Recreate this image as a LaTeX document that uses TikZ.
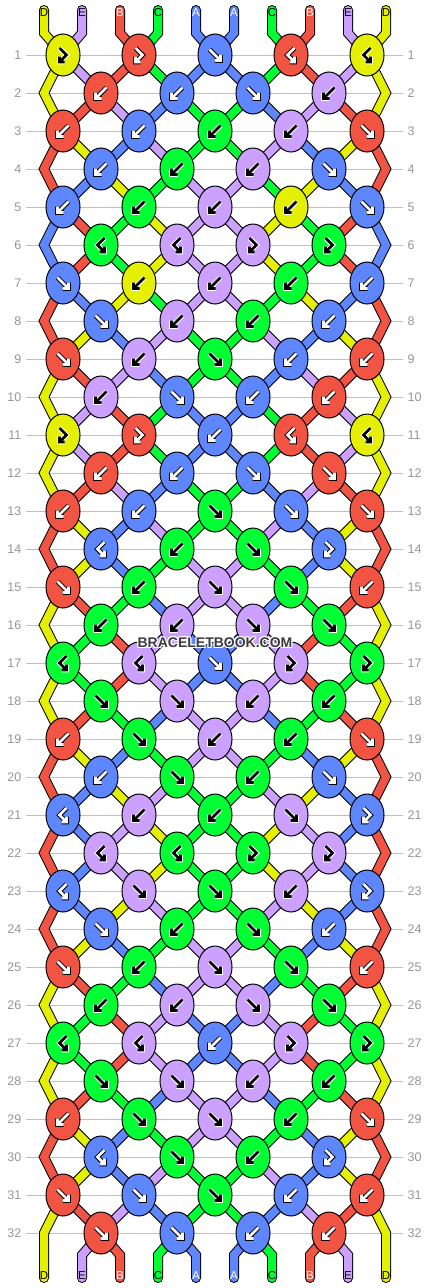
\documentclass[tikz,border=0pt]{standalone}
\usepackage{fontspec}
\setmainfont{Liberation Sans}
\usetikzlibrary{shapes.geometric}
\definecolor{cY}{RGB}{228,240,0}
\definecolor{cR}{RGB}{242,84,68}
\definecolor{cB}{RGB}{94,134,255}
\definecolor{cG}{RGB}{0,255,51}
\definecolor{cL}{RGB}{204,160,255}
\definecolor{gridgray}{RGB}{192,192,192}
\definecolor{numgray}{RGB}{150,150,150}
\definecolor{wmgray}{RGB}{60,60,60}
\def\fgY{black}\def\fgG{black}\def\fgL{black}\def\fgR{white}\def\fgB{white}
\def\bgY{white}\def\bgG{white}\def\bgL{white}\def\bgR{black}\def\bgB{black}
\def\pF{(-5.5,-5.5)--(4.8,4.8) (5.5,-0.5)--(5.5,5.5)--(-0.5,5.5)}
\def\pB{(5.5,-5.5)--(-4.8,4.8) (-5.5,-0.5)--(-5.5,5.5)--(0.5,5.5)}
\def\pFB{(-3.5,-7)--(3.5,0)--(-3,6.5) (-3.5,1.5)--(-3.5,7)--(1.5,7)}
\def\pBF{(3.5,-7)--(-3.5,0)--(3,6.5) (3.5,1.5)--(3.5,7)--(-1.5,7)}
\def\rowdata{%
1/{Y,L,R,G,B,B,G,R,L,Y}/{FB/Y,FB/R,F/B,BF/R,BF/Y},%
2/{Y,R,L,B,G,G,B,L,R,Y}/{B/R,B/B,F/B,B/L},%
3/{R,Y,B,L,G,G,L,B,Y,R}/{B/R,B/B,B/G,B/L,F/R},%
4/{R,B,Y,G,L,L,G,Y,B,R}/{B/B,B/G,B/L,F/B},%
5/{B,R,G,Y,L,L,Y,G,R,B}/{B/B,B/G,B/L,B/Y,F/B},%
6/{B,R,G,Y,L,L,Y,G,R,B}/{BF/G,BF/L,FB/L,FB/G},%
7/{R,B,Y,G,L,L,G,Y,B,R}/{F/B,B/Y,B/L,B/G,B/B},%
8/{R,Y,B,L,G,G,L,B,Y,R}/{F/B,B/L,B/G,B/B},%
9/{Y,R,L,B,G,G,B,L,R,Y}/{F/R,B/L,F/G,B/B,B/R},%
10/{Y,L,R,G,B,B,G,R,L,Y}/{B/L,F/B,B/B,B/R},%
11/{Y,L,R,G,B,B,G,R,L,Y}/{FB/Y,FB/R,B/B,BF/R,BF/Y},%
12/{Y,R,L,B,G,G,B,L,R,Y}/{B/R,B/B,F/B,F/R},%
13/{R,Y,B,L,G,G,L,B,Y,R}/{B/R,B/B,F/G,F/B,F/R},%
14/{R,Y,B,G,L,L,G,B,Y,R}/{BF/B,B/G,F/G,FB/B},%
15/{Y,R,G,B,L,L,B,G,R,Y}/{F/R,B/G,F/L,F/G,B/R},%
16/{Y,G,R,L,B,B,L,R,G,Y}/{B/G,B/L,F/L,F/G},%
17/{Y,G,R,L,B,B,L,R,G,Y}/{BF/G,BF/L,F/B,FB/L,FB/G},%
18/{Y,R,G,B,L,L,B,G,R,Y}/{F/G,F/L,B/L,B/G},%
19/{R,Y,B,G,L,L,G,B,Y,R}/{B/R,F/G,B/L,B/G,F/R},%
20/{R,B,Y,L,G,G,L,Y,B,R}/{B/B,F/G,B/G,F/B},%
21/{R,B,L,Y,G,G,Y,L,B,R}/{BF/B,B/L,B/G,F/L,FB/B},%
22/{R,B,L,Y,G,G,Y,L,B,R}/{BF/L,BF/G,FB/G,FB/L},%
23/{R,B,Y,L,G,G,L,Y,B,R}/{BF/B,F/L,F/G,B/L,FB/B},%
24/{R,Y,B,G,L,L,G,B,Y,R}/{F/B,B/G,F/G,B/B},%
25/{Y,R,G,B,L,L,B,G,R,Y}/{F/R,B/G,F/L,F/G,B/R},%
26/{Y,G,R,L,B,B,L,R,G,Y}/{B/G,B/L,F/L,F/G},%
27/{Y,G,R,L,B,B,L,R,G,Y}/{BF/G,BF/L,B/B,FB/L,FB/G},%
28/{Y,R,G,B,L,L,B,G,R,Y}/{F/G,F/L,B/L,B/G},%
29/{R,Y,B,G,L,L,G,B,Y,R}/{B/R,F/G,F/L,B/G,F/R},%
30/{R,Y,B,L,G,G,L,B,Y,R}/{BF/B,F/G,B/G,FB/B},%
31/{Y,R,L,B,G,G,B,L,R,Y}/{F/R,F/B,F/G,B/B,B/R},%
32/{Y,L,R,G,B,B,G,R,L,Y}/{F/R,F/B,B/B,B/R}}
\begin{document}
\begin{tikzpicture}[x=1pt,y=-1pt,
  str/.style={draw=black,line width=1pt,double=#1,double distance=8pt,line join=miter},
  knot/.style={ellipse,draw=black,line width=1pt,minimum width=34pt,minimum height=42pt,inner sep=0pt},
  num/.style={text=numgray,font=\fontsize{12.5}{12.5}\selectfont,inner sep=0pt},
  lab/.style={font=\fontsize{11.5}{11.5}\selectfont,inner sep=0pt},
  wm/.style={font=\bfseries\fontsize{14}{14}\selectfont,inner sep=0pt}]
\useasboundingbox[fill=white] (0,0) rectangle (430,1288);
% grid lines and row numbers
\foreach \r in {1,...,32}{
  \pgfmathsetmacro\y{55+38*(\r-1)}
  \draw[gridgray,line width=1pt] (26,\y)--(403,\y);
  \node[num,anchor=east] (ln\r) at (21.5,\y) {\r};
  \node[num,anchor=west] (rn\r) at (407.5,\y) {\r};
}
% coordinates
\foreach \r in {1,...,32}{
  \pgfmathsetmacro\y{55+38*(\r-1)}
  \ifodd\r\relax
    \foreach \k in {0,...,4}{\coordinate (k\r-\k) at ({63+76*\k},\y);}
  \else
    \foreach \k in {0,...,3}{\coordinate (k\r-\k) at ({101+76*\k},\y);}
    \coordinate (eL\r) at (44,\y);
    \coordinate (eR\r) at (386,\y);
  \fi
}
\foreach \i in {0,...,9}{
  \coordinate (t\i) at ({44+38*\i},10);
  \coordinate (tb\i) at ({44+38*\i},33);
  \coordinate (bb\i) at ({44+38*\i},1255);
  \coordinate (b\i) at ({44+38*\i},1278);
}
% top strings
\foreach \c [count=\i from 0] in {Y,L,R,G,B,B,G,R,L,Y}{
  \pgfmathtruncatemacro\ka{floor(\i/2)}
  \draw[str=c\c,line cap=round] (t\i)--(tb\i)--(k1-\ka);
}
% segments
\foreach \r/\s/\kl in \rowdata{
  \pgfmathtruncatemacro\rn{\r+1}
  \pgfmathtruncatemacro\rnn{\r+2}
  \foreach \c [count=\i from 0] in \s{
    \ifodd\r\relax
      \ifnum\i=0\relax
        \ifnum\r<31\relax
          \draw[str=c\c] (k\r-0)--(eL\rn)--(k\rnn-0);
        \else
          \draw[str=c\c,line cap=round] (k\r-0)--(eL\rn)--(b0);
        \fi
      \else\ifnum\i=9\relax
        \ifnum\r<31\relax
          \draw[str=c\c] (k\r-4)--(eR\rn)--(k\rnn-4);
        \else
          \draw[str=c\c,line cap=round] (k\r-4)--(eR\rn)--(b9);
        \fi
      \else
        \pgfmathtruncatemacro\ka{floor(\i/2)}
        \pgfmathtruncatemacro\kb{floor((\i-1)/2)}
        \draw[str=c\c] (k\r-\ka)--(k\rn-\kb);
      \fi\fi
    \else
      \ifnum\i=0\relax\else\ifnum\i=9\relax\else
        \pgfmathtruncatemacro\ka{floor((\i-1)/2)}
        \ifnum\r<32\relax
          \pgfmathtruncatemacro\kb{floor(\i/2)}
          \draw[str=c\c] (k\r-\ka)--(k\rn-\kb);
        \else
          \draw[str=c\c,line cap=round] (k\r-\ka)--(bb\i)--(b\i);
        \fi
      \fi\fi
    \fi
  }
}
% knots
\foreach \r/\s/\kl in \rowdata{
  \foreach \t/\c [count=\k from 0] in \kl{
    \node[knot,fill=c\c] (n\r-\k) at (k\r-\k) {};
    \edef\fgc{\csname fg\c\endcsname}\edef\bgc{\csname bg\c\endcsname}
    \expandafter\let\expandafter\gpath\csname p\t\endcsname
    \begin{scope}[shift={(n\r-\k.center)}]
      \draw[line width=4.6pt,color=\bgc,line join=miter] \gpath;
      \draw[line width=2.6pt,color=\fgc,line join=miter] \gpath;
    \end{scope}
  }
}
% string letters
\foreach \lt/\fc [count=\i from 0] in {D/black,E/black,B/white,C/black,A/white,A/white,C/black,B/white,E/black,D/black}{
  \node[lab,text=\fc] (tl\i) at ({44+38*\i},13) {\lt};
  \node[lab,text=\fc] (bl\i) at ({44+38*\i},1276) {\lt};
}
% watermark
\foreach \dx/\dy [count=\j] in {-1/-1,0/-1,1/-1,-1/0,1/0,-1/1,0/1,1/1}{
  \node[wm,text=white] (wmh\j) at ({215+\dx},{643+\dy}) {BRACELETBOOK.COM};
}
\node[wm,text=wmgray] (wm) at (215,643) {BRACELETBOOK.COM};
\end{tikzpicture}
\end{document}
